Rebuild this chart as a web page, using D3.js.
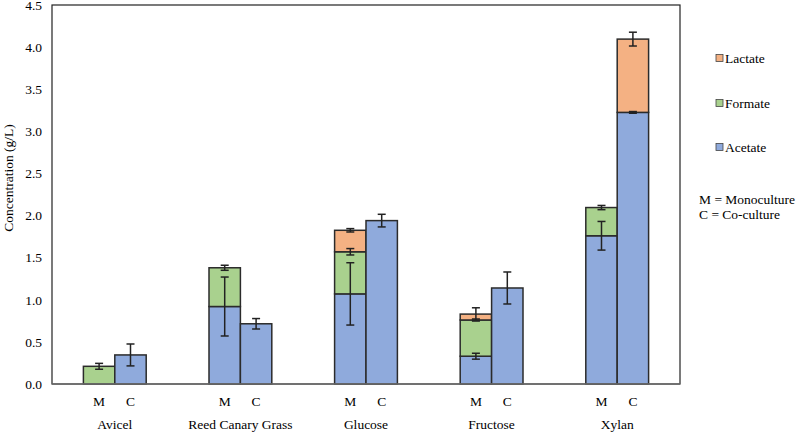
<!DOCTYPE html>
<html>
<head>
<meta charset="utf-8">
<script src="https://cdn.jsdelivr.net/npm/d3@7"></script>
<style>
  html, body { margin: 0; padding: 0; background: #fff; }
  svg { display: block; }
</style>
</head>
<body>
<svg id="chart" width="797" height="433"></svg>
<script>
const categories = ["Avicel", "Reed Canary Grass", "Glucose", "Fructose", "Xylan"];
const cultures = ["M", "C"];
const seriesNames = ["Acetate", "Formate", "Lactate"];
const seriesColors = ["#8FAADC", "#A9D18E", "#F4B183"];
const yTicks = [0, 0.5, 1.0, 1.5, 2.0, 2.5, 3.0, 3.5, 4.0, 4.5];

// Monoculture (M) values, g/L
const acetateM = [0, 0.92, 1.07, 0.33, 1.76];
const formateM = [0.21, 0.46, 0.50, 0.43, 0.335];
const lactateM = [0, 0, 0.255, 0.07, 0];
// Co-culture (C) values, g/L
const acetateC = [0.345, 0.715, 1.94, 1.14, 3.225];
const formateC = [0, 0, 0, 0, 0];
const lactateC = [0, 0, 0, 0, 0.87];
// Error (±) values
const acetateErrM = [0, 0.35, 0.37, 0.035, 0.17];
const formateErrM = [0.035, 0.03, 0.038, 0.012, 0.025];
const lactateErrM = [0, 0, 0.02, 0.075, 0];
const acetateErrC = [0.13, 0.062, 0.075, 0.19, 0.01];
const formateErrC = [0, 0, 0, 0, 0];
const lactateErrC = [0, 0, 0, 0, 0.082];

const FONT = "'Liberation Serif', Tinos, 'Times New Roman', Times, 'DejaVu Serif', serif";

const svg = d3.select("#chart");
const margin = { left: 52, top: 5, right: 680, bottom: 384 };

const x = d3.scaleBand().domain(categories).range([margin.left, margin.right]).padding(0);
const xSub = d3.scaleBand().domain(cultures).range([0, x.bandwidth()]).paddingInner(0).paddingOuter(1);
const y = d3.scaleLinear().domain([0, 4.5]).range([margin.bottom, margin.top]);

const values = { M: [acetateM, formateM, lactateM], C: [acetateC, formateC, lactateC] };
const errors = { M: [acetateErrM, formateErrM, lactateErrM], C: [acetateErrC, formateErrC, lactateErrC] };
const segs = [];
categories.forEach((cat, i) => {
  cultures.forEach(cu => {
    let base = 0;
    seriesNames.forEach((s, k) => {
      const v = values[cu][k][i];
      if (v > 0) {
        segs.push({ cat, cu, k, y0: base, y1: base + v, err: errors[cu][k][i] });
      }
      base += v;
    });
  });
});

function txt(sel) {
  return sel.style("font-family", FONT).style("font-size", "13.5px").attr("fill", "#000");
}

// frame
svg.append("rect")
  .attr("x", margin.left).attr("y", margin.top)
  .attr("width", margin.right - margin.left).attr("height", margin.bottom - margin.top)
  .attr("fill", "none").attr("stroke", "#222").attr("stroke-width", 1.2);

// bars
svg.append("g").selectAll("rect").data(segs).join("rect")
  .attr("x", d => x(d.cat) + xSub(d.cu))
  .attr("width", xSub.bandwidth())
  .attr("y", d => y(d.y1))
  .attr("height", d => y(d.y0) - y(d.y1))
  .attr("fill", d => seriesColors[d.k])
  .attr("stroke", "#2b2b2b").attr("stroke-width", 1.5);

// error bars
const eg = svg.append("g").attr("stroke", "#222").attr("stroke-width", 1.5);
segs.filter(d => d.err > 0).forEach(d => {
  const cx = x(d.cat) + xSub(d.cu) + xSub.bandwidth() / 2;
  const top = y(d.y1 + d.err), bot = y(d.y1 - d.err);
  eg.append("line").attr("x1", cx).attr("x2", cx).attr("y1", top).attr("y2", bot);
  eg.append("line").attr("x1", cx - 4).attr("x2", cx + 4).attr("y1", top).attr("y2", top);
  eg.append("line").attr("x1", cx - 4).attr("x2", cx + 4).attr("y1", bot).attr("y2", bot);
});

// bottom axis line
svg.append("line").attr("x1", margin.left).attr("x2", margin.right)
  .attr("y1", margin.bottom).attr("y2", margin.bottom)
  .attr("stroke", "#6f6f6f").attr("stroke-width", 1.5);

// y axis
const yAxis = d3.axisLeft(y).tickValues(yTicks).tickFormat(d3.format(".1f")).tickSize(0).tickPadding(10);
const ga = svg.append("g").attr("transform", `translate(${margin.left},0)`).call(yAxis);
ga.select(".domain").remove();
txt(ga.selectAll("text"));

// x labels
categories.forEach(cat => {
  cultures.forEach(cu => {
    txt(svg.append("text")
      .attr("x", x(cat) + xSub(cu) + xSub.bandwidth() / 2)
      .attr("y", 405.5)
      .attr("text-anchor", "middle"))
      .text(cu);
  });
  txt(svg.append("text")
    .attr("x", x(cat) + x.bandwidth() / 2)
    .attr("y", 429)
    .attr("text-anchor", "middle"))
    .text(cat);
});

// y title
txt(svg.append("text")
  .attr("transform", "translate(13,178) rotate(-90)")
  .attr("text-anchor", "middle"))
  .text("Concentration (g/L)");

// legend
const legendOrder = [2, 1, 0];
const legY = [58, 103, 147];
legendOrder.forEach((k, j) => {
  svg.append("rect").attr("x", 716).attr("y", legY[j] - 3.5).attr("width", 7).attr("height", 7)
    .attr("fill", seriesColors[k]).attr("stroke", "#444").attr("stroke-width", 0.8);
  txt(svg.append("text").attr("x", 725).attr("y", legY[j] + 5)).text(seriesNames[k]);
});
txt(svg.append("text").attr("x", 699).attr("y", 204)).text("M = Monoculture");
txt(svg.append("text").attr("x", 699).attr("y", 219)).text("C = Co-culture");
</script>
</body>
</html>
